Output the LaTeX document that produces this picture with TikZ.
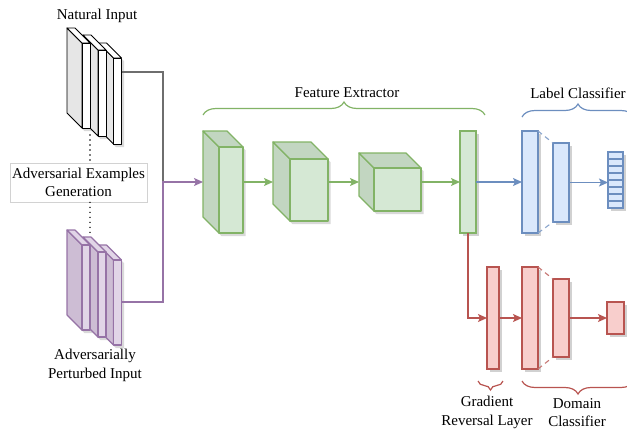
\documentclass[tikz,border=0pt]{standalone}
\usepackage{fontspec}
\setmainfont{Liberation Serif}
\usetikzlibrary{arrows.meta,decorations.pathreplacing,shadows}
\definecolor{gS}{HTML}{82B366}
\definecolor{gF}{HTML}{D5E8D4}
\definecolor{gD}{HTML}{C2D6C1}
\definecolor{bS}{HTML}{6C8EBF}
\definecolor{bF}{HTML}{DAE8FC}
\definecolor{rS}{HTML}{B85450}
\definecolor{rF}{HTML}{F8CECC}
\definecolor{pS}{HTML}{9673A6}
\definecolor{pF}{HTML}{E1D5E7}
\definecolor{pD}{HTML}{CDBDD4}
\definecolor{nD}{HTML}{E6E6E6}
\definecolor{lnG}{HTML}{6E6E6E}
% shadow of a cuboid: #1 x, #2 y (front top-left), #3 w, #4 h, #5 depth
\newcommand{\cubeshadow}[5]{%
  \begin{scope}[shift={(2.5,3)}]
    \fill[black,opacity=0.15] (#1,#2) ++(-#5,-#5) -- ++(#3,0) -- ++(#5,#5) -- ++(0,#4) -- ++(-#3,0) -- ++(-#5,-#5) -- cycle;
  \end{scope}
}
% cuboid: #1 x, #2 y, #3 w, #4 h, #5 depth, #6 stroke, #7 front, #8 side, #9 top
\newcommand{\mycube}[9]{%
  \filldraw[draw=#6,fill=#8,shapeline] (#1,#2) -- ++(-#5,-#5) -- ++(0,#4) -- ++(#5,#5) -- cycle;
  \filldraw[draw=#6,fill=#9,shapeline] (#1,#2) -- ++(-#5,-#5) -- ++(#3,0) -- ++(#5,#5) -- cycle;
  \filldraw[draw=#6,fill=#7,shapeline] (#1,#2) rectangle ++(#3,#4);
}
\tikzset{
  shapeline/.style={line width=1.3pt, line join=round},
  bar/.style={draw, line width=1.3pt, inner sep=0pt, outer sep=0pt,
    drop shadow={shadow xshift=2.5pt, shadow yshift=-3pt, opacity=0.18, fill=black}},
  conn/.style={line width=1.3pt},
  arr/.style={-{Stealth[length=9pt,width=8pt,inset=2pt]}},
  lbl/.style={align=center, inner sep=0pt, font=\fontsize{15}{18.5}\selectfont},
  dotline/.style={line width=1.6pt, line cap=round, dash pattern=on 0pt off 5pt},
  dashln/.style={line width=1.1pt, dash pattern=on 5pt off 4pt},
  bracel/.style={line width=1.2pt, decorate},
}
\begin{document}
\begin{tikzpicture}[x=1pt,y=-1pt]
\useasboundingbox (0,0) rectangle (627,429);

% ---- shadows of stacks and cubes ----
\cubeshadow{113.5}{58}{8}{86}{15}
\cubeshadow{98}{50}{8}{86}{15}
\cubeshadow{82}{43}{8}{85}{15}
\cubeshadow{113.5}{260}{8}{85}{15}
\cubeshadow{98}{252}{8}{85}{15}
\cubeshadow{82}{245}{8}{85}{15}
\cubeshadow{219}{147}{24}{86}{16}
\cubeshadow{290}{159}{38}{62}{17}
\cubeshadow{374}{168}{47}{43}{15}

% ---- natural input stack ----
\begin{scope}[shapeline/.style={line width=0.9pt, line join=round}]
\mycube{113.5}{58}{8}{86}{15}{black}{white}{nD}{white}
\mycube{98}{50}{8}{86}{15}{black}{white}{nD}{white}
\mycube{82}{43}{8}{85}{15}{black}{white}{nD}{white}
\end{scope}
\node[lbl] (natlbl) at (97,16) {Natural Input};

% ---- adversarial stack ----
\begin{scope}[shapeline/.style={line width=1.1pt, line join=round}]
\mycube{113.5}{260}{8}{85}{15}{pS}{pF}{pD}{pF}
\mycube{98}{252}{8}{85}{15}{pS}{pF}{pD}{pF}
\mycube{82}{245}{8}{85}{15}{pS}{pF}{pD}{pF}
\end{scope}
\node[lbl] (advlbl) at (95,365.5) {Adversarially\\Perturbed Input};

% ---- generation box ----
\node[lbl, draw=gray!35, fill=white, line width=0.8pt, minimum width=137pt, minimum height=39pt] (gen) at (78.5,182.5) {Adversarial Examples\\Generation};
\coordinate (natb) at (90,135);
\coordinate (advt) at (90,236);
\draw[dotline] (natb) -- (gen.north -| natb);
\draw[dotline] (gen.south -| advt) -- (advt);

% ---- feature extractor ----
\mycube{219}{147}{24}{86}{16}{gS}{gF}{gD}{gD}
\mycube{290}{159}{38}{62}{17}{gS}{gF}{gD}{gD}
\mycube{374}{168}{47}{43}{15}{gS}{gF}{gD}{gD}
\node[bar, draw=gS, fill=gF, minimum width=16pt, minimum height=102pt] (gb) at (468,182) {};

\coordinate (natout) at (121.5,72);
\coordinate (advout) at (121.5,302);
\coordinate (join) at (163,182);
\coordinate (c1in) at (203,182);
\coordinate (c1out) at (243,182);
\coordinate (c2in) at (273,182);
\coordinate (c2out) at (328,182);
\coordinate (c3in) at (359,182);
\coordinate (c3out) at (421,182);

\draw[conn, lnG] (natout) -| (join);
\draw[conn, pS, arr] (advout) -| (join) -- (c1in);
\draw[conn, gS, arr] (c1out) -- (c2in);
\draw[conn, gS, arr] (c2out) -- (c3in);
\draw[conn, gS, arr] (c3out) -- (gb.west);

% ---- label classifier ----
\node[bar, draw=bS, fill=bF, minimum width=16pt, minimum height=102pt] (b1) at (530,182) {};
\node[bar, draw=bS, fill=bF, minimum width=16pt, minimum height=79pt] (b2) at (561,182.5) {};
\node[bar, draw=bS, fill=bF, minimum width=15pt, minimum height=56pt] (bo) at (615.5,180) {};
\foreach \i in {1,...,7} {
  \draw[bS, line width=1.1pt] ([yshift=-\i*7pt]bo.north west) -- ([yshift=-\i*7pt]bo.north east);
}
\draw[conn, bS, arr] (gb.east) -- (b1.west);
\draw[conn, bS, arr] (b2.east) -- (bo.west |- b2.east);
\draw[bS!80, dashln] (b1.north east) -- (b2.north west);
\draw[bS!80, dashln] (b1.south east) -- (b2.south west);

% ---- domain classifier ----
\node[bar, draw=rS, fill=rF, minimum width=12pt, minimum height=102pt] (grl) at (493,318) {};
\node[bar, draw=rS, fill=rF, minimum width=16pt, minimum height=102pt] (r2) at (530,318) {};
\node[bar, draw=rS, fill=rF, minimum width=16pt, minimum height=78pt] (r3) at (561,318) {};
\node[bar, draw=rS, fill=rF, minimum width=17pt, minimum height=32pt] (ro) at (615.5,318) {};
\draw[conn, rS, arr] (gb.south) |- (grl.west);
\draw[conn, rS, arr] (grl.east) -- (r2.west);
\draw[conn, rS, arr] (r3.east) -- (ro.west);
\draw[rS!80, dashln] (r2.north east) -- (r3.north west);
\draw[rS!80, dashln] (r2.south east) -- (r3.south west);

% ---- braces and labels ----
\coordinate (fbL) at (203,115);
\coordinate (fbR) at (485,115);
\coordinate (lbL) at (522,117);
\coordinate (lbR) at (634,117);
\coordinate (gbL) at (478,381);
\coordinate (gbR) at (503,381);
\coordinate (dbL) at (522,381);
\coordinate (dbR) at (634,381);
\draw[bracel, gS, decoration={brace, amplitude=13pt}] (fbL) -- (fbR);
\draw[bracel, bS, decoration={brace, amplitude=13pt}] (lbL) -- (lbR);
\draw[bracel, rS, decoration={brace, amplitude=9pt}] (gbR) -- (gbL);
\draw[bracel, rS, decoration={brace, amplitude=13pt}] (dbR) -- (dbL);
\node[lbl] (felbl) at (347,93) {Feature Extractor};
\node[lbl] (lclbl) at (578,93) {Label Classifier};
\node[lbl] (grllbl) at (487,412.5) {Gradient\\Reversal Layer};
\node[lbl] (dclbl) at (577,412.5) {Domain\\Classifier};
\end{tikzpicture}
\end{document}
